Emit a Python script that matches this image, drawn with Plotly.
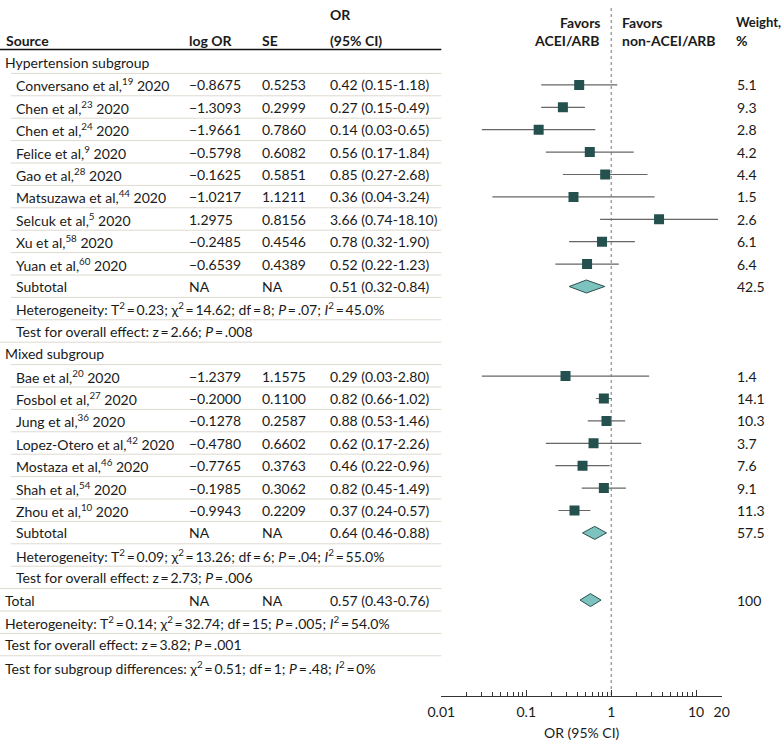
import math
import plotly.graph_objects as go

# ---------------- data ----------------
hyp_studies = ["Conversano et al,<sup>19</sup> 2020", "Chen et al,<sup>23</sup> 2020", "Chen et al,<sup>24</sup> 2020",
               "Felice et al,<sup>9</sup> 2020", "Gao et al,<sup>28</sup> 2020", "Matsuzawa et al,<sup>44</sup> 2020",
               "Selcuk et al,<sup>5</sup> 2020", "Xu et al,<sup>58</sup> 2020", "Yuan et al,<sup>60</sup> 2020"]
hyp_logor = [-0.8675, -1.3093, -1.9661, -0.5798, -0.1625, -1.0217, 1.2975, -0.2485, -0.6539]
hyp_se = [0.5253, 0.2999, 0.7860, 0.6082, 0.5851, 1.1211, 0.8156, 0.4546, 0.4389]
hyp_or = [0.42, 0.27, 0.14, 0.56, 0.85, 0.36, 3.66, 0.78, 0.52]
hyp_lo = [0.15, 0.15, 0.03, 0.17, 0.27, 0.04, 0.74, 0.32, 0.22]
hyp_hi = [1.18, 0.49, 0.65, 1.84, 2.68, 3.24, 18.10, 1.90, 1.23]
hyp_w = [5.1, 9.3, 2.8, 4.2, 4.4, 1.5, 2.6, 6.1, 6.4]
hyp_sub = (0.51, 0.32, 0.84, 42.5)

mix_studies = ["Bae et al,<sup>20</sup> 2020", "Fosbol et al,<sup>27</sup> 2020", "Jung et al,<sup>36</sup> 2020",
               "Lopez-Otero et al,<sup>42</sup> 2020", "Mostaza et al,<sup>46</sup> 2020", "Shah et al,<sup>54</sup> 2020",
               "Zhou et al,<sup>10</sup> 2020"]
mix_logor = [-1.2379, -0.2000, -0.1278, -0.4780, -0.7765, -0.1985, -0.9943]
mix_se = [1.1575, 0.1100, 0.2587, 0.6602, 0.3763, 0.3062, 0.2209]
mix_or = [0.29, 0.82, 0.88, 0.62, 0.46, 0.82, 0.37]
mix_lo = [0.03, 0.66, 0.53, 0.17, 0.22, 0.45, 0.24]
mix_hi = [2.80, 1.02, 1.46, 2.26, 0.96, 1.49, 0.57]
mix_w = [1.4, 14.1, 10.3, 3.7, 7.6, 9.1, 11.3]
mix_sub = (0.64, 0.46, 0.88, 57.5)

total = (0.57, 0.43, 0.76, 100)

EQ = "\u2009=\u2009"
hyp_het = f"Heterogeneity: T<sup>2</sup>{EQ}0.23; χ<sup>2</sup>{EQ}14.62; df{EQ}8; <i>P</i>{EQ}.07; <i>I</i><sup>2</sup>{EQ}45.0%"
hyp_eff = f"Test for overall effect: z{EQ}2.66; <i>P</i>{EQ}.008"
mix_het = f"Heterogeneity: T<sup>2</sup>{EQ}0.09; χ<sup>2</sup>{EQ}13.26; df{EQ}6; <i>P</i>{EQ}.04; <i>I</i><sup>2</sup>{EQ}55.0%"
mix_eff = f"Test for overall effect: z{EQ}2.73; <i>P</i>{EQ}.006"
tot_het = f"Heterogeneity: T<sup>2</sup>{EQ}0.14; χ<sup>2</sup>{EQ}32.74; df{EQ}15; <i>P</i>{EQ}.005; <i>I</i><sup>2</sup>{EQ}54.0%"
tot_eff = f"Test for overall effect: z{EQ}3.82; <i>P</i>{EQ}.001"
sub_diff = f"Test for subgroup differences: χ<sup>2</sup>{EQ}0.51; df{EQ}1; <i>P</i>{EQ}.48; <i>I</i><sup>2</sup>{EQ}0%"

tick_vals = [0.01, 0.1, 1, 10, 20]
tick_text = ["0.01", "0.1", "1", "10", "20"]
x_title = "OR (95% CI)"

# ---------------- layout constants ----------------
W, H = 783, 750
FONT = "Lato"
FS = 14
TXT = "#1a1a1a"
Y0, STEP = 62.5, 22.4
X_LBL, X_IND, X_LOG, X_SE, X_OR, X_W = 3, 14, 187, 260, 328, 735
AX_L, AX_R, AX_Y = 441.3, 721.7, 695.7
SQ_COL = "#24504e"
DIA_FILL = "#7cc3bf"
LINE_COL = "#666666"
SEP_COL = "#dcd9cf"


def fmt(v):
    return ("−" if v < 0 else "") + f"{abs(v):.4f}"


def ci(o, l, h):
    return f"{o:.2f} ({l:.2f}-{h:.2f})"


# build rows
rows = []
rows.append(dict(kind="head", text="Hypertension subgroup", indent=False))
for i in range(len(hyp_studies)):
    rows.append(dict(kind="study", text=hyp_studies[i], indent=True, logor=hyp_logor[i], se=hyp_se[i],
                     o=hyp_or[i], lo=hyp_lo[i], hi=hyp_hi[i], w=hyp_w[i]))
rows.append(dict(kind="sub", text="Subtotal", indent=True, o=hyp_sub[0], lo=hyp_sub[1], hi=hyp_sub[2], w=hyp_sub[3]))
rows.append(dict(kind="note", text=hyp_het, indent=True))
rows.append(dict(kind="note", text=hyp_eff, indent=True))
rows.append(dict(kind="head", text="Mixed subgroup", indent=False))
for i in range(len(mix_studies)):
    rows.append(dict(kind="study", text=mix_studies[i], indent=True, logor=mix_logor[i], se=mix_se[i],
                     o=mix_or[i], lo=mix_lo[i], hi=mix_hi[i], w=mix_w[i]))
rows.append(dict(kind="sub", text="Subtotal", indent=True, o=mix_sub[0], lo=mix_sub[1], hi=mix_sub[2], w=mix_sub[3]))
rows.append(dict(kind="note", text=mix_het, indent=True))
rows.append(dict(kind="note", text=mix_eff, indent=True))
rows.append(dict(kind="sub", text="Total", indent=False, o=total[0], lo=total[1], hi=total[2], w=total[3]))
rows.append(dict(kind="note", text=tot_het, indent=False))
rows.append(dict(kind="note", text=tot_eff, indent=False))
rows.append(dict(kind="note", text=sub_diff, indent=False))

fig = go.Figure()
ann = []
shapes = []


def px(x):
    return x / W


def add_text(x, y, text, anchor="left", bold=False, size=FS):
    ann.append(dict(x=px(x), y=y, xref="paper", yref="y", text=f"<b>{text}</b>" if bold else text,
                    showarrow=False, xanchor=anchor, yanchor="middle",
                    font=dict(family=FONT, size=size, color=TXT)))


# header
add_text(4, 40, "Source", bold=True)
add_text(X_LOG, 40, "log OR", bold=True)
add_text(X_SE, 40, "SE", bold=True)
add_text(X_OR, 14, "OR", bold=True)
add_text(X_OR, 40, "(95% CI)", bold=True)
add_text(602, 22, "Favors", anchor="right", bold=True)
add_text(602, 40, "ACEI/ARB", anchor="right", bold=True)
add_text(620, 22, "Favors", bold=True)
add_text(620, 40, "non-ACEI/ARB", bold=True)
add_text(X_W - 1, 22, "Weight,", bold=True, size=13)
add_text(X_W - 1, 40, "%", bold=True)
shapes.append(dict(type="line", xref="paper", yref="y", x0=0, x1=px(AX_L), y0=49.5, y1=49.5,
                   line=dict(color="#111111", width=1.3)))

sq_x, sq_y = [], []
for i, r in enumerate(rows):
    y = Y0 + i * STEP
    xl = X_IND if r["indent"] else X_LBL
    add_text(xl, y, r["text"])
    if i > 0:
        shapes.append(dict(type="line", xref="paper", yref="y", x0=px(xl - 3 if r["indent"] else 0),
                           x1=px(AX_L), y0=y - 11.5, y1=y - 11.5, line=dict(color=SEP_COL, width=1)))
    if r["kind"] == "study":
        add_text(X_LOG, y, fmt(r["logor"]))
        add_text(X_SE, y, f"{r['se']:.4f}")
        add_text(X_OR, y, ci(r["o"], r["lo"], r["hi"]))
        add_text(X_W, y, f"{r['w']:.1f}")
        fig.add_trace(go.Scatter(x=[r["lo"], r["hi"]], y=[y, y], mode="lines",
                                 line=dict(color=LINE_COL, width=1.2), hoverinfo="skip", showlegend=False))
        sq_x.append(r["o"])
        sq_y.append(y)
    elif r["kind"] == "sub":
        add_text(X_LOG, y, "NA")
        add_text(X_SE, y, "NA")
        add_text(X_OR, y, ci(r["o"], r["lo"], r["hi"]))
        add_text(X_W, y, f"{r['w']:g}" if r["w"] == 100 else f"{r['w']:.1f}")
        hh = 6.5
        fig.add_trace(go.Scatter(x=[r["lo"], r["o"], r["hi"], r["o"], r["lo"]],
                                 y=[y, y - hh, y, y + hh, y], mode="lines", fill="toself",
                                 fillcolor=DIA_FILL, line=dict(color="#2e4f4d", width=1),
                                 hoverinfo="skip", showlegend=False))

fig.add_trace(go.Scatter(x=sq_x, y=sq_y, mode="markers",
                         marker=dict(symbol="square", size=10, color=SQ_COL, line=dict(width=0)),
                         hoverinfo="skip", showlegend=False))

# reference line at OR = 1
fig.add_trace(go.Scatter(x=[1, 1], y=[8, AX_Y], mode="lines",
                         line=dict(color="#777777", width=1, dash="dot"), hoverinfo="skip", showlegend=False))

# axis title
add_text((AX_L + AX_R) / 2, 732, x_title, anchor="center")

minor_vals = [m * 10 ** e for e in (-2, -1, 0, 1) for m in range(2, 10) if m * 10 ** e < 20]

fig.update_layout(
    width=W, height=H, margin=dict(l=0, r=0, t=0, b=0, pad=0, autoexpand=False),
    paper_bgcolor="white", plot_bgcolor="white",
    annotations=ann, shapes=shapes, showlegend=False,
    xaxis=dict(type="log", range=[-2, math.log10(20)], domain=[px(AX_L), px(AX_R)],
               anchor="free", position=1 - AX_Y / H, automargin=False,
               showline=True, linecolor="#333333", linewidth=1,
               tickmode="array", tickvals=tick_vals, ticktext=tick_text,
               ticks="inside", ticklen=6, tickcolor="#333333", tickwidth=1,
               ticklabelstandoff=3,
               minor=dict(tickmode="array", tickvals=minor_vals, ticks="inside", ticklen=4,
                          tickcolor="#333333", tickwidth=1, showgrid=False),
               showgrid=False, zeroline=False,
               tickfont=dict(family=FONT, size=FS, color=TXT)),
    yaxis=dict(range=[H, 0], domain=[0, 1], visible=False, showgrid=False, zeroline=False, automargin=False),
)

fig.write_html("out.html", config={"displayModeBar": False},
               post_script="document.body.style.margin='0';document.body.style.padding='0';")
